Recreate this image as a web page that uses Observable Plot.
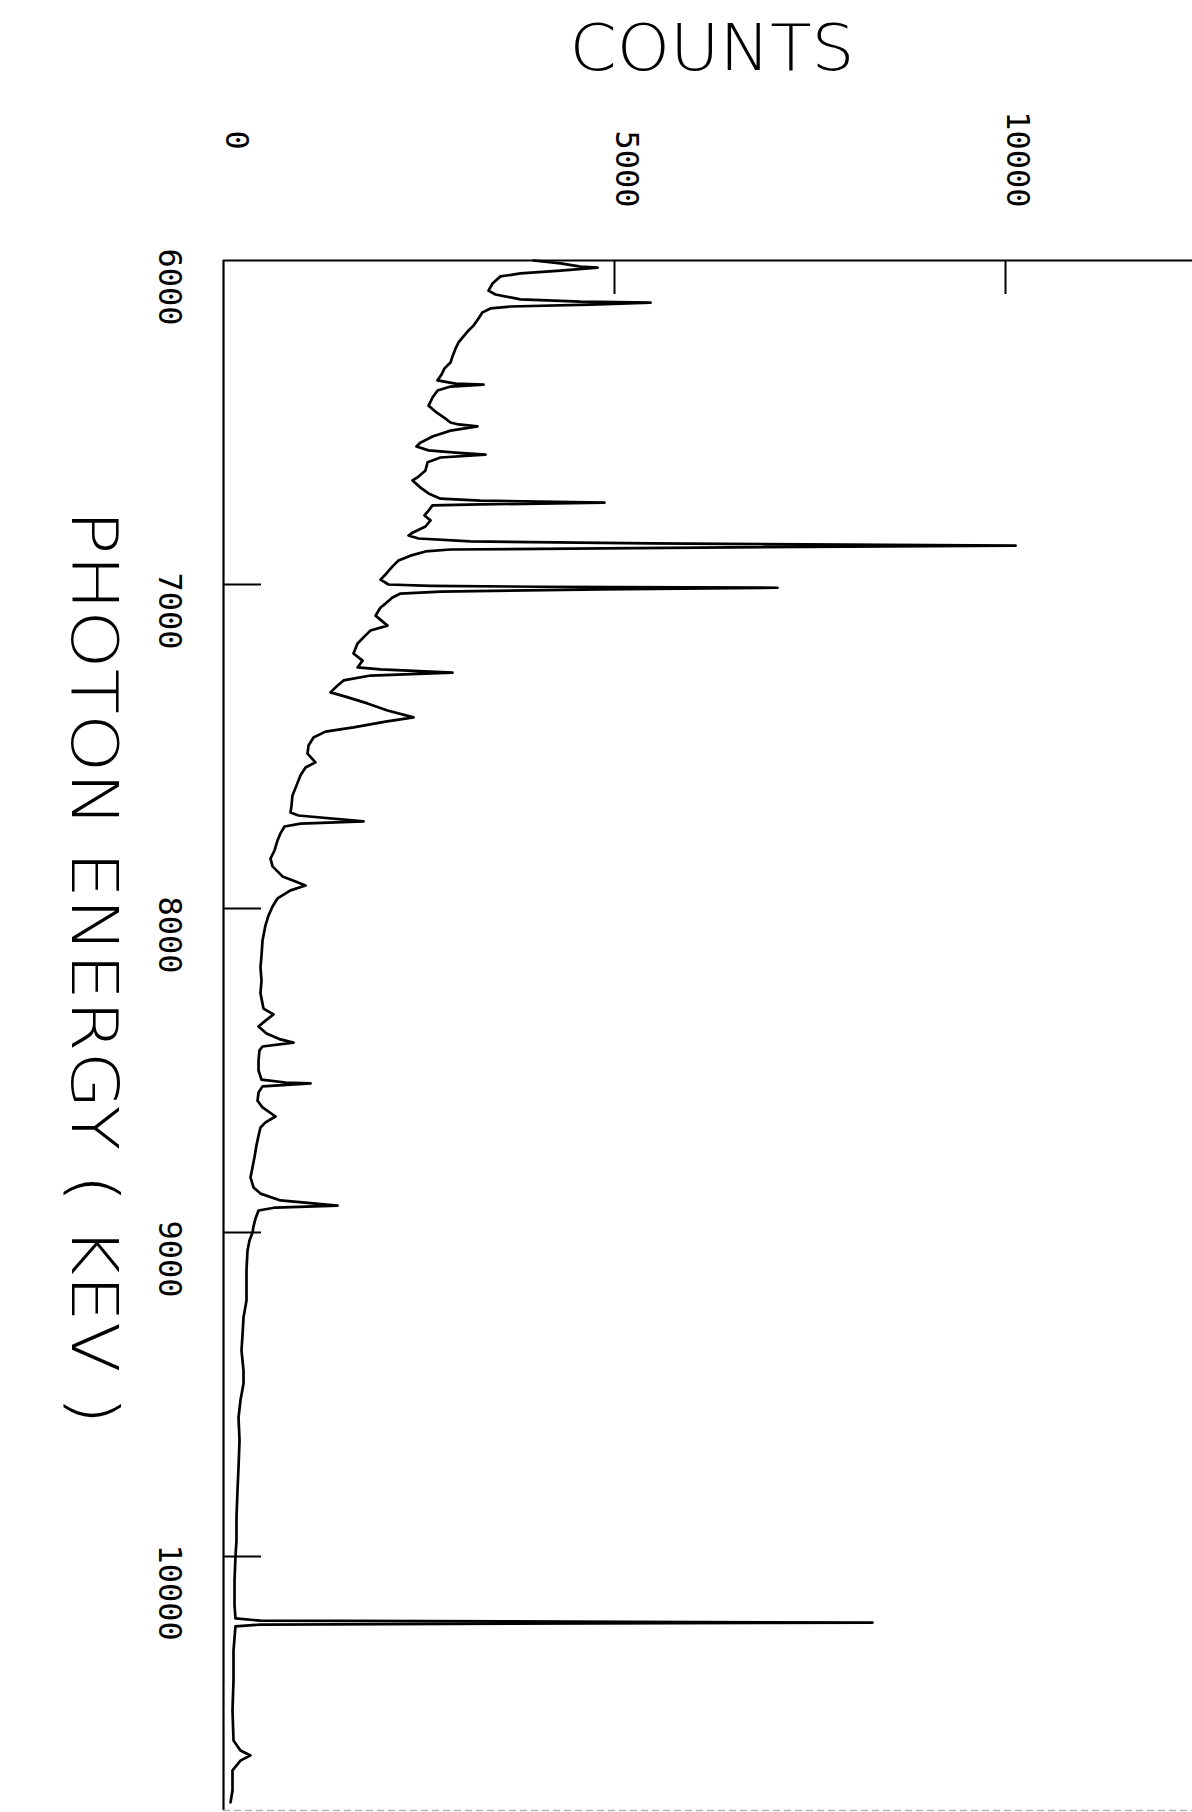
<!DOCTYPE html>
<html>
<head>
<meta charset="utf-8">
<script src="https://cdn.jsdelivr.net/npm/d3@7"></script>
<script src="https://cdn.jsdelivr.net/npm/@observablehq/plot@0.6"></script>
<style>
  html, body { margin: 0; padding: 0; background: #fff; }
  #chart svg { display: block; }
</style>
</head>
<body>
<div id="chart"></div>
<script>
// Photon energy (keV) along the vertical axis, counts along the horizontal axis
const energy = [
  6000, 6009, 6019, 6022, 6031, 6040, 6049, 6071, 6093, 6105,
  6120, 6127, 6130, 6136, 6142, 6148, 6160, 6179, 6201, 6216,
  6238, 6253, 6272, 6296, 6315, 6333, 6352, 6370, 6380, 6383,
  6389, 6401, 6423, 6448, 6469, 6488, 6500, 6506, 6512, 6525,
  6543, 6562, 6574, 6586, 6593, 6599, 6608, 6623, 6648, 6667,
  6679, 6701, 6719, 6735, 6741, 6747, 6753, 6756, 6772, 6787,
  6802, 6821, 6840, 6849, 6858, 6867, 6873, 6880, 6886, 6892,
  6898, 6911, 6926, 6944, 6966, 6985, 7000, 7004, 7007, 7010,
  7015, 7022, 7028, 7040, 7059, 7071, 7096, 7127, 7142, 7157,
  7182, 7213, 7235, 7256, 7262, 7272, 7281, 7296, 7315, 7333,
  7346, 7367, 7389, 7410, 7423, 7441, 7454, 7472, 7497, 7522,
  7549, 7565, 7589, 7620, 7651, 7682, 7704, 7713, 7731, 7738,
  7747, 7768, 7790, 7821, 7846, 7870, 7901, 7917, 7929, 7944,
  7969, 7994, 8022, 8052, 8099, 8145, 8182, 8222, 8262, 8309,
  8327, 8346, 8364, 8386, 8404, 8414, 8426, 8438, 8469, 8500,
  8528, 8537, 8540, 8549, 8568, 8593, 8614, 8642, 8660, 8676,
  8701, 8731, 8768, 8799, 8830, 8861, 8880, 8901, 8917, 8923,
  8932, 8957, 8981, 9000, 9025, 9056, 9117, 9210, 9262, 9318,
  9364, 9426, 9466, 9518, 9571, 9642, 9725, 9796, 9880, 9951,
  10000, 10074, 10151, 10191, 10198, 10204, 10210, 10216, 10290, 10383,
  10475, 10568, 10599, 10614, 10630, 10660, 10722, 10759
];
const counts = [
  3964, 4310, 4565, 4783, 4310, 3798, 3542, 3440, 3389, 3478,
  3798, 4565, 5460, 4693, 3670, 3414, 3312, 3261, 3197, 3133,
  3056, 3005, 2967, 2928, 2903, 2826, 2788, 2737, 2967, 3325,
  2903, 2737, 2673, 2622, 2724, 2839, 2903, 3005, 3248, 2903,
  2673, 2519, 2468, 2622, 2967, 3350, 2775, 2609, 2583, 2494,
  2417, 2519, 2622, 2775, 3286, 4872, 3286, 2673, 2622, 2570,
  2647, 2583, 2417, 2366, 2494, 3159, 5460, 10128, 6100, 2903,
  2583, 2391, 2238, 2161, 2084, 2008, 2110, 2647, 4054, 7084,
  4821, 2775, 2263, 2161, 2072, 2008, 1944, 2097, 1880, 1816,
  1714, 1662, 1778, 1714, 2008, 2928, 1880, 1535, 1445, 1368,
  1560, 1841, 2097, 2430, 2072, 1662, 1304, 1151, 1087, 1074,
  1176, 1049, 985, 934, 882, 870, 857, 959, 1790, 985,
  780, 729, 691, 652, 601, 627, 755, 921, 1049, 857,
  691, 627, 575, 537, 499, 486, 473, 486, 473, 511,
  639, 537, 448, 550, 729, 895, 499, 460, 448, 448,
  486, 793, 1113, 499, 448, 435, 499, 665, 537, 473,
  448, 422, 396, 371, 345, 384, 473, 729, 1458, 665,
  448, 409, 384, 371, 332, 307, 294, 294, 256, 243,
  230, 256, 256, 217, 192, 205, 192, 179, 166, 166,
  153, 141, 141, 153, 473, 8299, 473, 153, 128, 128,
  115, 128, 217, 345, 217, 115, 115, 90
];
const energyTicks = [6000, 7000, 8000, 9000, 10000];
const countTicks = [0, 5000, 10000];
const countsTitle = "COUNTS";
const energyTitle = "PHOTON ENERGY ( KEV )";

const data = energy.map((e, i) => ({energy: e, counts: counts[i]}));
const tickFont = "'DejaVu Sans Mono', 'Liberation Mono', monospace";
const titleFont = "'DejaVu Sans', 'Liberation Sans', sans-serif";

const chart = Plot.plot({
  width: 1192,
  height: 1812,
  marginLeft: 223,
  marginRight: 0,
  marginTop: 260,
  marginBottom: 2,
  style: {background: "#fff", color: "#000"},
  x: {domain: [0, 12391]},
  y: {domain: [6000, 10784], reverse: true},
  marks: [
    // frame: top and left lines, faint bottom edge
    Plot.ruleY([6000], {stroke: "#000", strokeWidth: 2.2}),
    Plot.ruleX([0], {stroke: "#000", strokeWidth: 2.2}),
    Plot.ruleY([10784], {stroke: "#b5b5b5", strokeWidth: 1.5, strokeDasharray: "7,4"}),
    // inward ticks
    Plot.axisX(countTicks.filter(d => d > 0), {anchor: "top", tickSize: -33, strokeWidth: 2, tickFormat: () => "", label: null}),
    Plot.axisY(energyTicks.filter(d => d > 6000), {anchor: "left", tickSize: -38, strokeWidth: 2, tickFormat: () => "", label: null}),
    // count tick labels (rotated, above the frame)
    Plot.text(countTicks.filter(d => d > 0), {
      x: d => d, frameAnchor: "top", text: d => String(d),
      rotate: 90, textAnchor: "end", lineAnchor: "middle",
      dx: 12, dy: -53, fontSize: 32, fontFamily: tickFont, fill: "#000"
    }),
    Plot.text(countTicks.filter(d => d === 0), {
      x: d => d, frameAnchor: "top", text: d => String(d),
      rotate: 90, textAnchor: "start", lineAnchor: "middle",
      dx: 13, dy: -130, fontSize: 32, fontFamily: tickFont, fill: "#000"
    }),
    // energy tick labels (rotated, left of the frame)
    Plot.text(energyTicks, {
      y: d => d, frameAnchor: "left", text: d => String(d),
      rotate: 90, textAnchor: "start", lineAnchor: "middle",
      dx: -54, dy: -12, fontSize: 32, fontFamily: tickFont, fill: "#000"
    }),
    // axis titles
    Plot.text([countsTitle], {
      frameAnchor: "top", text: d => d, textAnchor: "middle", lineAnchor: "middle",
      dx: 4, dy: -211, fontSize: 64, fontWeight: 200, fontFamily: titleFont, fill: "#000",
      className: "title-counts"
    }),
    Plot.text([energyTitle], {
      frameAnchor: "left", text: d => d, rotate: 90, textAnchor: "middle", lineAnchor: "middle",
      dx: -131, dy: -68, fontSize: 64, fontWeight: 200, fontFamily: titleFont, fill: "#000",
      className: "title-energy"
    }),
    // spectrum
    Plot.line(data, {x: "counts", y: "energy", stroke: "#000", strokeWidth: 2.7, curve: "linear", strokeLinejoin: "round"})
  ]
});

document.getElementById("chart").appendChild(chart);

// stretch titles to the plotter's lettering length
chart.querySelectorAll(".title-counts text").forEach(t => {
  t.setAttribute("textLength", 285);
  t.setAttribute("lengthAdjust", "spacingAndGlyphs");
});
chart.querySelectorAll(".title-energy text").forEach(t => {
  t.setAttribute("textLength", 915);
  t.setAttribute("lengthAdjust", "spacingAndGlyphs");
});
</script>
</body>
</html>
